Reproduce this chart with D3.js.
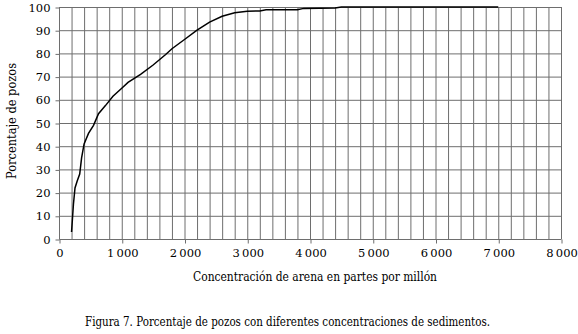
<!DOCTYPE html>
<html>
<head>
<meta charset="utf-8">
<script src="https://cdn.jsdelivr.net/npm/d3@7"></script>
<style>
  body { margin: 0; background: #fff; }
</style>
</head>
<body>
<div id="chart"></div>
<script>
// concentration (ppm) and cumulative % of wells
const concentration = [200, 230, 255, 290, 330, 360, 400, 470, 550, 630, 740, 860, 1000, 1100, 1300,
    1500, 1700, 1800, 2000, 2200, 2400, 2600, 2800, 3000, 3200, 3300, 3800, 3900, 4400, 4500, 7000]
const percentWells = [3, 15, 22, 25, 28, 35, 41, 45.5, 49, 54, 57.5, 61.5, 65, 67.5, 71,
    75, 79.5, 82, 86, 90, 93.5, 96, 97.5, 98.2, 98.3, 98.8, 98.8, 99.4, 99.6, 100, 100]
const xTicks = [0, 1000, 2000, 3000, 4000, 5000, 6000, 7000, 8000]
const yTicks = [0, 10, 20, 30, 40, 50, 60, 70, 80, 90, 100]
const xTitle = 'Concentración de arena en partes por millón'
const yTitle = 'Porcentaje de pozos'
const caption = 'Figura 7. Porcentaje de pozos con diferentes concentraciones de sedimentos.'

const width = 578, height = 334
const margin = {top: 7, right: 17, bottom: 95, left: 59}
const gridColor = '#6e6e6e'
const serif = 'DejaVu Serif'

const svg = d3.select('#chart')
    .append('svg')
    .attr('width', width)
    .attr('height', height)

const x = d3.scaleLinear().domain([0, 8000]).range([margin.left, width - margin.right])
const y = d3.scaleLinear().domain([0, 100]).range([height - margin.bottom, margin.top])

// vertical grid every 200, horizontal every 10
const g = svg.append('g')
g.selectAll('.vgrid')
    .data(d3.range(200, 8001, 200))
    .join('line')
    .attr('class', 'vgrid')
    .attr('x1', d => x(d) + 0.5).attr('x2', d => x(d) + 0.5)
    .attr('y1', y(0)).attr('y2', y(100))
    .attr('stroke', gridColor)
g.selectAll('.hgrid')
    .data(yTicks.slice(1))
    .join('line')
    .attr('class', 'hgrid')
    .attr('x1', x(0)).attr('x2', x(8000) + 1)
    .attr('y1', d => y(d) + 0.5).attr('y2', d => y(d) + 0.5)
    .attr('stroke', gridColor)

// axes
const xAxis = svg.append('g')
    .attr('transform', `translate(0.5, ${y(0) + 0.5})`)
    .call(d3.axisBottom(x).tickValues(xTicks).tickSize(4).tickPadding(5)
        .tickFormat(d => d === 0 ? '0' : d3.format(',')(d).replace(',', '\u2009')))
const yAxis = svg.append('g')
    .attr('transform', `translate(${x(0) + 0.5}, 0.5)`)
    .call(d3.axisLeft(y).tickValues(yTicks).tickSize(4).tickPadding(5))

;[xAxis, yAxis].forEach(a => {
    a.attr('font-family', serif).attr('font-size', 11.5)
    a.selectAll('path, line').attr('stroke', gridColor)
})
xAxis.select('.domain').attr('d', `M${x(0)},0H${x(8000)}`)
yAxis.select('.domain').attr('d', `M0,${y(0)}V${y(100)}`)

// curve
const line = d3.line()
    .x((d, i) => x(concentration[i]))
    .y(d => y(d))
svg.append('path')
    .datum(percentWells)
    .attr('d', line)
    .attr('fill', 'none')
    .attr('stroke', '#000')
    .attr('stroke-width', 1.5)

// titles
svg.append('text')
    .attr('x', 315).attr('y', 281)
    .attr('text-anchor', 'middle')
    .attr('font-family', serif)
    .attr('font-size', 12)
    .attr('textLength', 244).attr('lengthAdjust', 'spacingAndGlyphs')
    .text(xTitle)
svg.append('text')
    .attr('transform', `translate(16, 121) rotate(-90)`)
    .attr('text-anchor', 'middle')
    .attr('font-family', serif)
    .attr('font-size', 12)
    .attr('textLength', 116).attr('lengthAdjust', 'spacingAndGlyphs')
    .text(yTitle)
svg.append('text')
    .attr('x', 287.5).attr('y', 326)
    .attr('text-anchor', 'middle')
    .attr('font-family', serif)
    .attr('font-size', 12)
    .attr('textLength', 405).attr('lengthAdjust', 'spacingAndGlyphs')
    .text(caption)
</script>
</body>
</html>
